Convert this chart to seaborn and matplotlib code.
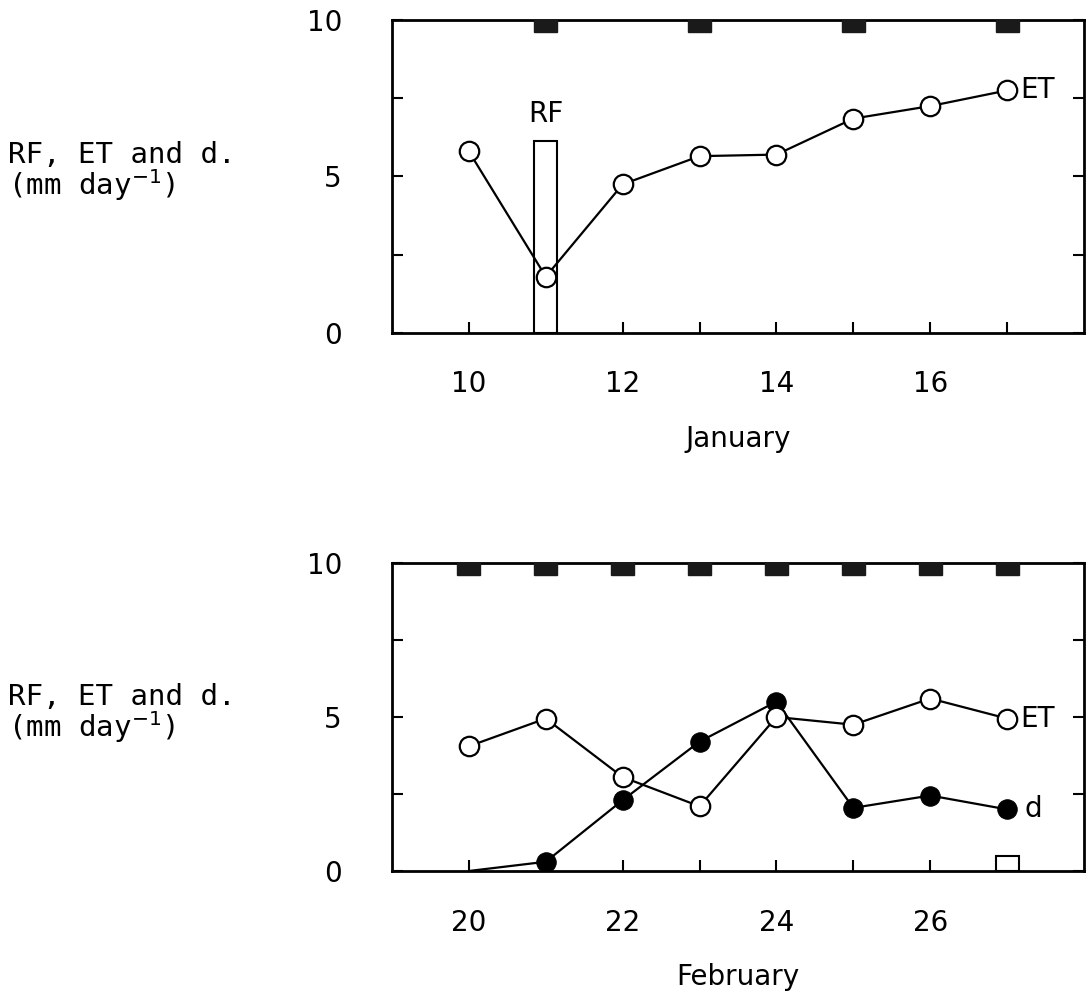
import matplotlib
matplotlib.use("Agg")
import matplotlib.pyplot as plt
import seaborn as sns
import pandas as pd

# January: evapotranspiration (ET) and rainfall (RF)
jan_days = [10, 11, 12, 13, 14, 15, 16, 17]
jan_et = [5.8, 1.8, 4.75, 5.65, 5.7, 6.85, 7.25, 7.75]
jan_rf_days = [11]
jan_rf = [6.15]
jan_marks = [11, 13, 15, 17]
jan_ticklabels = [10, 12, 14, 16]

# February: ET, drainage (d) and rainfall
feb_days = [20, 21, 22, 23, 24, 25, 26, 27]
feb_et = [4.05, 4.95, 3.05, 2.1, 5.0, 4.75, 5.6, 4.95]
feb_d = [0.0, 0.3, 2.3, 4.2, 5.5, 2.05, 2.45, 2.0]
feb_rf_days = [27]
feb_rf = [0.5]
feb_marks = [20, 21, 22, 23, 24, 25, 26, 27]
feb_ticklabels = [20, 22, 24, 26]

sns.set_style("ticks")
plt.rcParams["font.family"] = ["DejaVu Sans"]
plt.rcParams.update({
    "text.color": "black",
    "axes.labelcolor": "black",
    "xtick.color": "black",
    "ytick.color": "black",
})

W, H = 1086, 1005
fig = plt.figure(figsize=(W / 100, H / 100), dpi=100)


def px_axes(left, top, right, bottom):
    return fig.add_axes([left / W, 1 - bottom / H, (right - left) / W, (bottom - top) / H])


ax1 = px_axes(392, 20, 1084, 333)
ax2 = px_axes(392, 563, 1084, 871)

LW = 1.6
MS = 14


def style_axes(ax, xlim, days, ticklabels, xlabel):
    ax.set_xlim(*xlim)
    ax.set_ylim(0, 10)
    ax.set_xticks(days)
    ax.set_xticklabels([str(d) if d in ticklabels else "" for d in days])
    ax.set_yticks([0, 2.5, 5, 7.5, 10])
    ax.set_yticklabels(["0", "", "5", "", "10"])
    for s in ax.spines.values():
        s.set_visible(True)
        s.set_linewidth(2.0)
        s.set_color("black")
    ax.tick_params(axis="x", direction="in", length=8, width=1.5, pad=27,
                   labelsize=20, top=False, bottom=True, colors="black")
    ax.tick_params(axis="y", direction="in", length=8, width=1.5, pad=36,
                   labelsize=20, left=True, right=True, colors="black")
    ax.set_xlabel(xlabel, fontsize=20, labelpad=19, color="black")
    ax.set_ylabel("")


def top_marks(ax, marks):
    ax.bar(marks, [0.38] * len(marks), bottom=10 - 0.38, width=0.3,
           color="#1a1a1a", edgecolor="#1a1a1a", zorder=4, clip_on=False)


# ---- January panel ----
jan = pd.DataFrame({"day": jan_days, "et": jan_et})
ax1.bar(jan_rf_days, jan_rf, width=0.3, facecolor="white", edgecolor="black",
        linewidth=1.5, zorder=2)
sns.lineplot(data=jan, x="day", y="et", ax=ax1, color="black", linewidth=LW,
             marker="o", markersize=MS, markerfacecolor="white",
             markeredgecolor="black", markeredgewidth=1.6, zorder=3)
top_marks(ax1, jan_marks)
ax1.text(jan_rf_days[0], jan_rf[0] + 0.4, "RF", ha="center", va="bottom", fontsize=20)
ax1.text(jan_days[-1] + 0.17, jan_et[-1], "ET", ha="left", va="center", fontsize=20)
style_axes(ax1, (9, 18), jan_days, jan_ticklabels, "January")

# ---- February panel ----
feb = pd.DataFrame({"day": feb_days, "et": feb_et, "d": feb_d})
ax2.bar(feb_rf_days, feb_rf, width=0.3, facecolor="white", edgecolor="black",
        linewidth=1.5, zorder=2)
sns.lineplot(data=feb, x="day", y="d", ax=ax2, color="black", linewidth=LW,
             marker="o", markersize=MS, markerfacecolor="black",
             markeredgecolor="black", markevery=list(range(1, len(feb_days))),
             zorder=3)
sns.lineplot(data=feb, x="day", y="et", ax=ax2, color="black", linewidth=LW,
             marker="o", markersize=MS, markerfacecolor="white",
             markeredgecolor="black", markeredgewidth=1.6, zorder=3)
top_marks(ax2, feb_marks)
ax2.text(feb_days[-1] + 0.17, feb_et[-1], "ET", ha="left", va="center", fontsize=20)
ax2.text(feb_days[-1] + 0.22, feb_d[-1], "d", ha="left", va="center", fontsize=20)
style_axes(ax2, (19, 28), feb_days, feb_ticklabels, "February")

# y-axis captions, set beside each panel
for y_top in (155, 697):
    fig.text(8 / W, 1 - y_top / H, "RF, ET and d.", ha="left", va="center",
             fontsize=21, family=["DejaVu Sans Mono"])
    fig.text(8 / W, 1 - (y_top + 30) / H, r"(mm day$^{-1}$)", ha="left", va="center",
             fontsize=21, family=["DejaVu Sans Mono"])

fig.savefig("out.png", dpi=100, facecolor="white")
